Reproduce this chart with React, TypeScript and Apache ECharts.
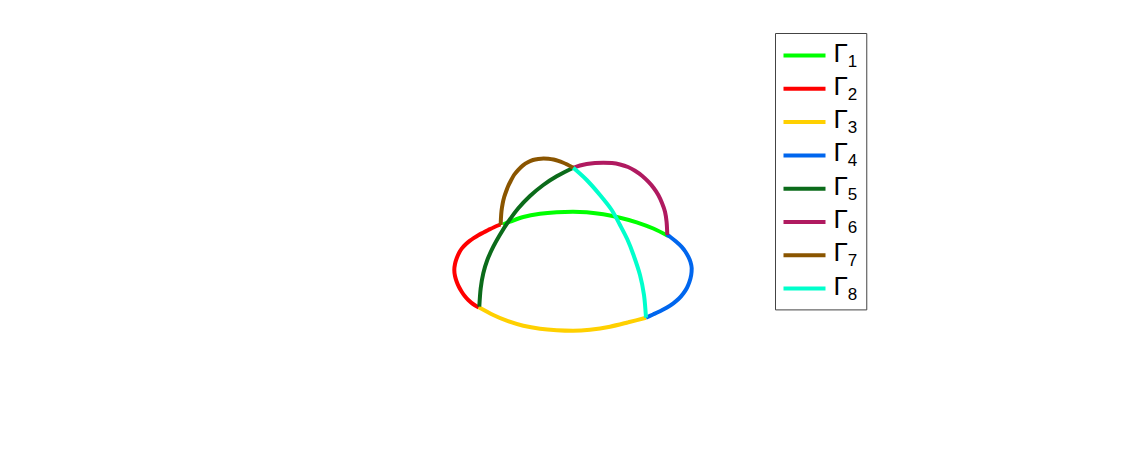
import React, { useEffect, useRef } from "react";
import * as echarts from "echarts";

const names = ["1", "2", "3", "4", "5", "6", "7", "8"];
const colors = ["#00ff00", "#ff0000", "#ffd000", "#0066ee", "#0b6b1a", "#b01a60", "#8a5500", "#00ffcc"];

const g1 = [[503,224.5],[510,221.7],[523.3,217],[540,213.8],[556.7,212.2],[573,211.7],[586.7,212.3],[603.3,214.3],[620,217.7],[636.7,222.3],[653.3,228.5],[668.3,236]];
const g2 = [[500.5,224.5],[494,227.2],[488.3,230],[483,232.7],[478.3,235.2],[474,237.9],[470,240.7],[465.5,244.5],[461.7,248.6],[459,253],[456.7,258.3],[455,264],[454.3,270],[455,276],[456.7,281.7],[459,287],[461.7,291.7],[464.7,296],[468.3,300],[473,304],[478.8,307.5]];
const g3 = [[478.8,307.3],[493.3,315],[506.7,320.7],[523.3,325.7],[540,328.7],[556.7,330.2],[573,330.7],[590,329.7],[610,326.7],[628.3,322.3],[646,317.7]];
const g4 = [[646,317.7],[653,314.5],[660,311.2],[667,307.5],[673.3,303.3],[679,298.5],[683.3,293.5],[687,287.7],[689.5,281.7],[691.2,275],[691.7,268.3],[690.5,262],[688.3,256.7],[685.3,251.5],[681.7,246.8],[676,241.5],[670,236.7],[666.7,234.3]];
const g5 = [[479.3,306.7],[480.7,288.3],[483.3,273.3],[487.3,260],[493.3,246.7],[499.5,235.5],[508.3,221.7],[518.3,208.3],[530,196],[543.3,185],[556.7,176.3],[573.3,167.8]];
const g6 = [[573.3,167.8],[580,165.5],[586.7,164],[595,163],[603.3,162.7],[612,163.1],[620,164.5],[628,167],[635,170.7],[642,175.7],[648.3,181.7],[653.7,188],[658.3,195],[662,203],[665,211.7],[666.6,222],[667.3,235]];
const g7 = [[500.7,225],[500.9,219],[501.5,211],[502.7,203.3],[504.2,197],[506,191.7],[508.2,186],[510.7,181],[514,175],[518.3,169.8],[523,165.3],[528.3,162],[533,160],[538.3,158.9],[543.5,158.4],[548.3,158.7],[553.5,159.5],[558.3,160.9],[562.7,162.5],[566.7,164.3],[573.3,167.8]];
const g8 = [[573.3,167.8],[586.7,180],[600,195],[611.7,210],[620,225],[627.3,239.3],[633.5,255],[640,275],[644,295],[646,317.7]];
const curves = [g1, g2, g3, g4, g5, g6, g7, g8];

export default function App() {
  const ref = useRef<HTMLDivElement>(null);
  useEffect(() => {
    const chart = echarts.init(ref.current!, undefined, { renderer: "svg" });
    chart.setOption({
      animation: false,
      backgroundColor: "#ffffff",
      grid: { left: 0, right: 0, top: 0, bottom: 0 },
      xAxis: { type: "value", min: 0, max: 1125, show: false },
      yAxis: { type: "value", min: 0, max: 456, inverse: true, show: false },
      legend: {
        orient: "vertical",
        left: 775.5,
        top: 33.5,
        padding: [6, 9.5, 7.3, 8],
        icon: "rect",
        itemWidth: 42,
        itemHeight: 4,
        itemGap: 3.3,
        borderColor: "#444444",
        borderWidth: 1,
        backgroundColor: "#ffffff",
        data: names.map((n) => ({ name: "Γ" + n })),
        formatter: (name: string) => `{g|Γ}{s|${name.slice(1)}}`,
        textStyle: {
          color: "#000",
          rich: {
            g: { fontFamily: "Liberation Sans", fontSize: 26, color: "#000", lineHeight: 28, padding: [0, 0, 4, 3], verticalAlign: "bottom" },
            s: { fontFamily: "Liberation Sans", fontSize: 17, color: "#000", lineHeight: 20, verticalAlign: "bottom" },
          },
        },
      },
      series: curves.map((data, i) => ({
        type: "line",
        name: "Γ" + names[i],
        data,
        smooth: 0.3,
        symbol: "none",
        lineStyle: { color: colors[i], width: 4, cap: "butt" },
        itemStyle: { color: colors[i] },
        z: 2 + i,
      })),
    });
    return () => chart.dispose();
  }, []);
  return <div ref={ref} style={{ position: "absolute", left: 0, top: 0, width: 1125, height: 456 }} />;
}
